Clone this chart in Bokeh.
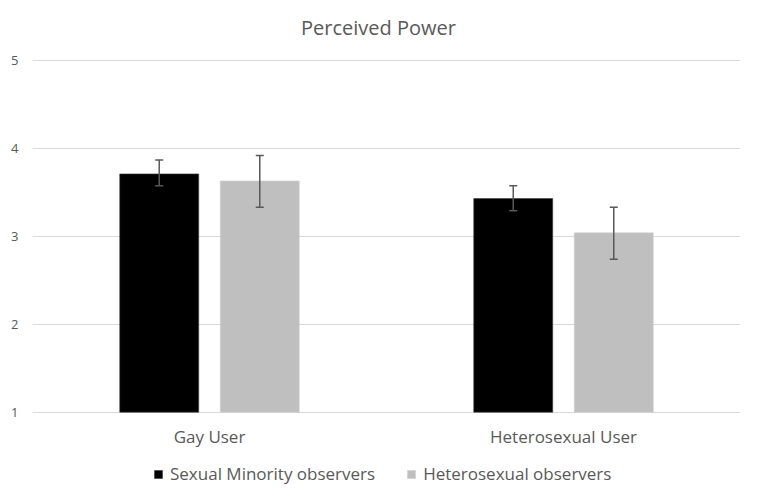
from bokeh.plotting import figure
from bokeh.models import (ColumnDataSource, FactorRange, Range1d, Whisker, TeeHead,
                          Legend, LegendItem, FixedTicker)
from bokeh.core.properties import value
from bokeh.transform import dodge
from bokeh.embed import file_html
from bokeh.resources import INLINE

# ---- data ----
title_text = "Perceived Power"
categories = ["Gay User", "Heterosexual User"]
series_names = ["Sexual Minority observers", "Heterosexual observers"]
minority_mean = [3.71, 3.43]
minority_low = [3.575, 3.29]
minority_high = [3.87, 3.575]
hetero_mean = [3.63, 3.04]
hetero_low = [3.33, 2.74]
hetero_high = [3.92, 3.33]
y_ticks = [1, 2, 3, 4, 5]

FONT = "Open Sans"
TXT = "#595959"

src = ColumnDataSource(dict(
    cat=categories,
    m_mean=minority_mean, m_low=minority_low, m_high=minority_high,
    h_mean=hetero_mean, h_low=hetero_low, h_high=hetero_high,
))

# the frame covers the full canvas height so that title, category labels and
# legend (outside the 1..5 value band) are drawn inside it
p = figure(width=742, height=485, output_backend="svg", toolbar_location=None,
           x_range=FactorRange(factors=categories), y_range=Range1d(0.166, 5.683),
           min_border_left=32, min_border_right=2, min_border_top=0,
           min_border_bottom=0)

bw = 0.223
off = 0.142
r1 = p.vbar(x=dodge("cat", -off, range=p.x_range), top="m_mean", bottom=1, width=bw,
            source=src, fill_color="#000000", line_color="#3a3a3a", line_width=0.6)
r2 = p.vbar(x=dodge("cat", off, range=p.x_range), top="h_mean", bottom=1, width=bw,
            source=src, fill_color="#bfbfbf", line_color="#cfcfcf", line_width=0.6)

for xoff, lo, hi in [(-off, "m_low", "m_high"), (off, "h_low", "h_high")]:
    w = Whisker(base=dodge("cat", xoff, range=p.x_range), lower=lo, upper=hi, source=src,
                line_color=TXT, line_width=1.5, level="overlay",
                upper_head=TeeHead(size=8, line_color=TXT, line_width=1.5),
                lower_head=TeeHead(size=8, line_color=TXT, line_width=1.5))
    p.add_layout(w)

# chart title, centred over the chart
p.text(x=[1.0], y=[max(y_ticks)], text=[title_text], x_offset=-8, y_offset=-33,
       text_align="center", text_baseline="middle",
       text_font=value(FONT), text_font_size="20px", text_color=TXT)

# category labels under the baseline
p.text(x="cat", y=min(y_ticks), text="cat", source=src, y_offset=24,
       text_align="center", text_baseline="middle",
       text_font=value(FONT), text_font_size="17px", text_color=TXT)

# grid
p.xgrid.grid_line_color = None
p.ygrid.ticker = FixedTicker(ticks=y_ticks)
p.ygrid.grid_line_color = "#d9d9d9"
p.ygrid.grid_line_width = 1
p.outline_line_color = None

# axes
p.xaxis.visible = False
p.yaxis.ticker = FixedTicker(ticks=y_ticks)
p.yaxis.axis_line_color = None
p.yaxis.major_tick_line_color = None
p.yaxis.minor_tick_line_color = None
p.yaxis.major_tick_out = 0
p.yaxis.major_tick_in = 0
p.yaxis.major_label_standoff = 14
p.yaxis.major_label_text_font = FONT
p.yaxis.major_label_text_font_size = "13px"
p.yaxis.major_label_text_color = TXT

legend = Legend(items=[LegendItem(label=series_names[0], renderers=[r1]),
                       LegendItem(label=series_names[1], renderers=[r2])],
                orientation="horizontal", location=(121, 0),
                label_text_font=FONT, label_text_font_size="17px", label_text_color=TXT,
                glyph_width=10, glyph_height=10, label_standoff=7, spacing=31,
                border_line_color=None, background_fill_alpha=0,
                padding=0, margin=0)
p.add_layout(legend)

open("out.html", "w").write(file_html(p, INLINE))
